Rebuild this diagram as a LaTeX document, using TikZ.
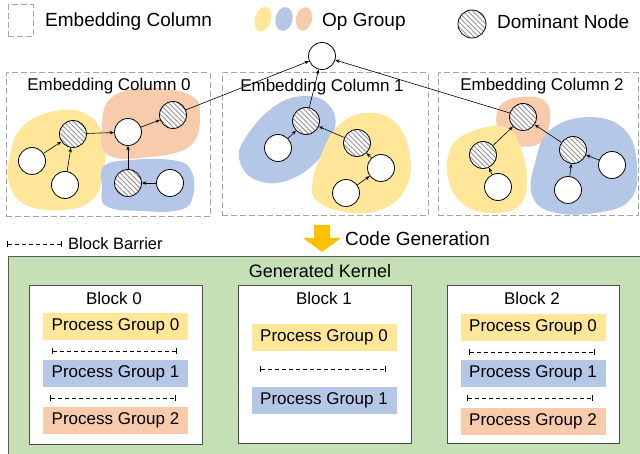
\documentclass[tikz,border=0pt]{standalone}
\usepackage{fontspec}
\setmainfont{Liberation Sans}
\usetikzlibrary{arrows.meta,patterns.meta,shapes.geometric}
\definecolor{cyel}{HTML}{FFE699}
\definecolor{cblu}{HTML}{B4C7E7}
\definecolor{cora}{HTML}{F8CBAD}
\definecolor{cgrn}{HTML}{C5E0B4}
\definecolor{cgold}{HTML}{FFC000}
\newcommand\myfs[1]{\fontsize{#1}{#1}\selectfont}
\begin{document}
\begin{tikzpicture}[x=1pt,y=-1pt,
  nd/.style={circle,draw,fill=white,minimum size=27pt,inner sep=0pt,line width=0.8pt},
  dom/.style={circle,draw,minimum size=27pt,inner sep=0pt,line width=0.8pt,
    preaction={fill=white},
    pattern={Lines[angle=-45,distance=3.5pt,line width=0.9pt]},pattern color=gray!85},
  ar/.style={-{Stealth[length=4.5pt,width=3.5pt]},line width=0.6pt},
  colbox/.style={draw=gray!70,dash pattern=on 6pt off 3pt,line width=1pt,inner sep=0pt},
  blob/.style={draw=none},
  ttl/.style={font=\myfs{17},inner sep=0pt},
  lg/.style={font=\myfs{19},inner sep=0pt,anchor=west},
  blk/.style={draw=black!70,fill=white,line width=1pt,inner sep=0pt},
  pg/.style={minimum width=145pt,minimum height=27pt,inner sep=0pt,font=\myfs{17}},
  barrier/.style={dash pattern=on 4pt off 3pt,line width=0.7pt,{Bar[width=6pt]}-{Bar[width=6pt]}}
]
\useasboundingbox (0,0) rectangle (640,454);

% ---------- legend ----------
\node[colbox,minimum width=25pt,minimum height=32pt] (lgcol) at (20.5,21) {};
\node[lg] (lgcoltxt) at (45,22) {Embedding Column};
\node[ellipse,fill=cyel,minimum width=16pt,minimum height=25pt,rotate=-18,inner sep=0pt] (lgy) at (263,19) {};
\node[ellipse,fill=cblu,minimum width=17pt,minimum height=24pt,rotate=-12,inner sep=0pt] (lgb) at (284,19) {};
\node[ellipse,fill=cora,minimum width=16pt,minimum height=24pt,rotate=-12,inner sep=0pt] (lgo) at (304,19) {};
\node[lg] (lgop) at (322,22) {Op Group};
\node[dom,minimum size=28pt] (lgdom) at (472,24) {};
\node[lg] (lgdomtxt) at (497,22) {Dominant Node};

% ---------- columns ----------
\node[colbox,minimum width=204pt,minimum height=144pt] (col0) at (108,145) {};
\node[colbox,minimum width=206pt,minimum height=143pt] (col1) at (325,144.5) {};
\node[colbox,minimum width=200pt,minimum height=143pt] (col2) at (538,144.5) {};

% blobs column 0
\fill[cyel] plot[smooth cycle,tension=0.7] coordinates {(9,160) (22,127) (55,111) (86,114) (103,136) (104,170) (92,200) (62,210) (26,205) (10,186)};
\fill[cora] plot[smooth cycle,tension=0.7] coordinates {(102,126) (111,98) (146,88) (190,95) (200,116) (190,146) (150,157) (108,155)};
\fill[cblu] plot[smooth cycle,tension=0.7] coordinates {(104,166) (130,160) (172,160) (191,170) (193,196) (180,210) (140,211) (106,206) (102,186)};
% blobs column 1
\fill[cblu] plot[smooth cycle,tension=0.7] coordinates {(244,140) (272,108) (303,96) (328,104) (335,128) (318,160) (286,181) (256,180) (240,162)};
\fill[cyel] plot[smooth cycle,tension=0.7] coordinates {(320,158) (336,128) (364,113) (395,122) (410,155) (405,190) (380,210) (345,212) (316,200) (313,180)};
% blobs column 2
\fill[cora] plot[smooth cycle,tension=0.7] coordinates {(500,106) (521,97) (545,101) (550,121) (540,143) (515,145) (498,130)};
\fill[cyel] plot[smooth cycle,tension=0.7] coordinates {(450,150) (470,132) (505,127) (520,146) (527,180) (520,205) (495,213) (466,206) (449,182)};
\fill[cblu] plot[smooth cycle,tension=0.7] coordinates {(535,163) (550,130) (590,117) (625,130) (637,165) (630,200) (595,213) (552,212) (532,195)};

\node[ttl] (t0) at (109,86) {Embedding Column 0};
\node[ttl] (t1) at (322,87) {Embedding Column 1};
\node[ttl] (t2) at (542,86) {Embedding Column 2};

% root
\node[nd] (root) at (322,56) {};
% column 0 nodes
\node[nd] (A) at (32,161) {};
\node[dom] (B) at (73,134) {};
\node[nd] (C) at (65,185) {};
\node[nd] (D) at (128,132) {};
\node[dom] (E) at (173,115) {};
\node[dom] (F) at (128,183) {};
\node[nd] (G) at (170,183) {};
% column 1 nodes
\node[dom] (H) at (306,121) {};
\node[nd] (I) at (278,148) {};
\node[dom] (J) at (357,143) {};
\node[nd] (K) at (381,168) {};
\node[nd] (L) at (346,193) {};
% column 2 nodes
\node[dom] (M) at (523,117) {};
\node[dom] (N) at (483,155) {};
\node[nd] (O) at (498,187) {};
\node[dom] (P) at (573,150) {};
\node[nd] (Q) at (612,165) {};
\node[nd] (R) at (568,190) {};

\draw[ar] (A) -- (B);
\draw[ar] (C) -- (B);
\draw[ar] (B) -- (D);
\draw[ar] (F) -- (D);
\draw[ar] (G) -- (F);
\draw[ar] (D) -- (E);
\draw[ar] (E) -- (root);
\draw[ar] (I) -- (H);
\draw[ar] (J) -- (H);
\draw[ar] (K) -- (J);
\draw[ar] (L) -- (K);
\draw[ar] (H) -- (root);
\draw[ar] (O) -- (N);
\draw[ar] (N) -- (M);
\draw[ar] (P) -- (M);
\draw[ar] (Q) -- (P);
\draw[ar] (R) -- (P);
\draw[ar] (M) -- (root);

% ---------- block barrier legend & code generation ----------
\coordinate (bl1) at (7,244);
\coordinate (bl2) at (62,244);
\draw[barrier] (bl1) -- (bl2);
\node[anchor=west,inner sep=0pt,font=\myfs{16.5}] (bbtxt) at (68,244) {Block Barrier};
\fill[cgold] (314,225) -- (330,225) -- (330,238) -- (341,238) -- (322,252) -- (303,238) -- (314,238) -- cycle;
\node[lg] (cg) at (345,239) {Code Generation};

% ---------- generated kernel ----------
\node[draw=black!65,fill=cgrn,line width=1pt,anchor=north west,minimum width=645pt,minimum height=210pt,inner sep=0pt] (kern) at (8,256) {};
\node[inner sep=0pt,font=\myfs{18}] (kt) at (320,271) {Generated Kernel};

\node[blk,minimum width=173pt,minimum height=158pt] (b0) at (115.5,365) {};
\node[blk,minimum width=173pt,minimum height=157pt] (b1) at (324.5,364.5) {};
\node[blk,minimum width=172pt,minimum height=157pt] (b2) at (533,364.5) {};
\node[ttl] (b0t) at (114,298) {Block 0};
\node[ttl] (b1t) at (324,298) {Block 1};
\node[ttl] (b2t) at (532,298) {Block 2};

\node[pg,fill=cyel] (p00) at (115.5,326.5) {Process Group 0};
\node[pg,fill=cblu] (p01) at (115.5,373.5) {Process Group 1};
\node[pg,fill=cora] (p02) at (115.5,420.5) {Process Group 2};
\node[pg,fill=cyel] (p10) at (324,337.5) {Process Group 0};
\node[pg,fill=cblu] (p11) at (324,400.5) {Process Group 1};
\node[pg,fill=cyel] (p20) at (533,327.5) {Process Group 0};
\node[pg,fill=cblu] (p21) at (533,373.5) {Process Group 1};
\node[pg,fill=cora] (p22) at (533,421.5) {Process Group 2};

\coordinate (x0a) at (52,351); \coordinate (y0a) at (177,351);
\coordinate (x0b) at (50,398); \coordinate (y0b) at (176,398);
\coordinate (x1a) at (260,369); \coordinate (y1a) at (386,369);
\coordinate (x2a) at (469,352); \coordinate (y2a) at (595,352);
\coordinate (x2b) at (467,398); \coordinate (y2b) at (593,398);
\draw[barrier] (x0a) -- (y0a);
\draw[barrier] (x0b) -- (y0b);
\draw[barrier] (x1a) -- (y1a);
\draw[barrier] (x2a) -- (y2a);
\draw[barrier] (x2b) -- (y2b);
\end{tikzpicture}
\end{document}
